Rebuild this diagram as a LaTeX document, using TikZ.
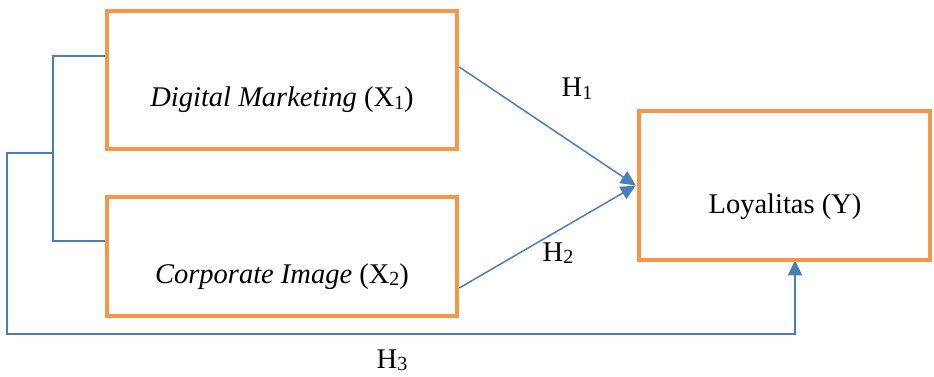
\documentclass[tikz,border=0pt]{standalone}
\usepackage{fontspec}
\setmainfont{Liberation Serif}
\usetikzlibrary{arrows.meta}
\definecolor{boxorange}{HTML}{F79646}
\definecolor{lineblue}{HTML}{4A7EBB}
\newcommand\mysub[1]{\raisebox{-0.1em}{\fontsize{20}{22}\selectfont #1}}
\begin{document}
\begin{tikzpicture}[x=1pt,y=-1pt,
  box/.style={draw=boxorange,line width=4.5pt,rectangle,inner sep=0pt,line join=miter},
  conn/.style={draw=lineblue,line width=1.5pt},
  lbl/.style={anchor=base,inner sep=0pt,font=\fontsize{28.5}{34}\selectfont},
  tip/.style={-{Triangle[length=15pt,width=14pt]}}
]
\useasboundingbox (0,0) rectangle (934,377);
% boxes (shapes only)
\node[box,minimum width=350pt,minimum height=138pt] (b1) at (282,80) {};
\node[box,minimum width=350pt,minimum height=119pt] (b2) at (282,256.5) {};
\node[box,minimum width=291pt,minimum height=149pt] (b3) at (784.5,185.5) {};
% texts
\node[lbl] (t1) at (282,107) {\textit{Digital Marketing} (X\mysub{1})};
\node[lbl] (t2) at (282,283) {\textit{Corporate Image} (X\mysub{2})};
\node[lbl] (t3) at (785,213) {Loyalitas (Y)};
\node[lbl] (h1) at (577,97) {H\mysub{1}};
\node[lbl] (h2) at (558,261) {H\mysub{2}};
\node[lbl] (h3) at (392,368) {H\mysub{3}};
% helper coordinates
\coordinate (ya) at (0,56);
\coordinate (yb) at (0,241);
\coordinate (yc) at (0,67);
\coordinate (yd) at (0,288);
\coordinate (jx) at (53,153);
\coordinate (lx) at (7,334);
\coordinate (ax) at (795,0);
% bracket
\draw[conn] (b1.west |- ya) -- (jx |- ya) -- (jx |- yb) -- (b2.west |- yb);
% H3 path
\draw[conn,tip] (jx) -- (lx |- jx) -- (lx) -- (ax |- lx) -- ([yshift=2pt]b3.south -| ax);
% H1, H2
\draw[conn,tip] (b1.east |- yc) -- ([xshift=-1pt]b3.west);
\draw[conn,tip] (b2.east |- yd) -- ([xshift=-1pt]b3.west);
% redraw boxes on top
\node[box,minimum width=350pt,minimum height=138pt] (b1r) at (282,80) {};
\node[box,minimum width=350pt,minimum height=119pt] (b2r) at (282,256.5) {};
\node[box,minimum width=291pt,minimum height=149pt] (b3r) at (784.5,185.5) {};
\end{tikzpicture}
\end{document}
